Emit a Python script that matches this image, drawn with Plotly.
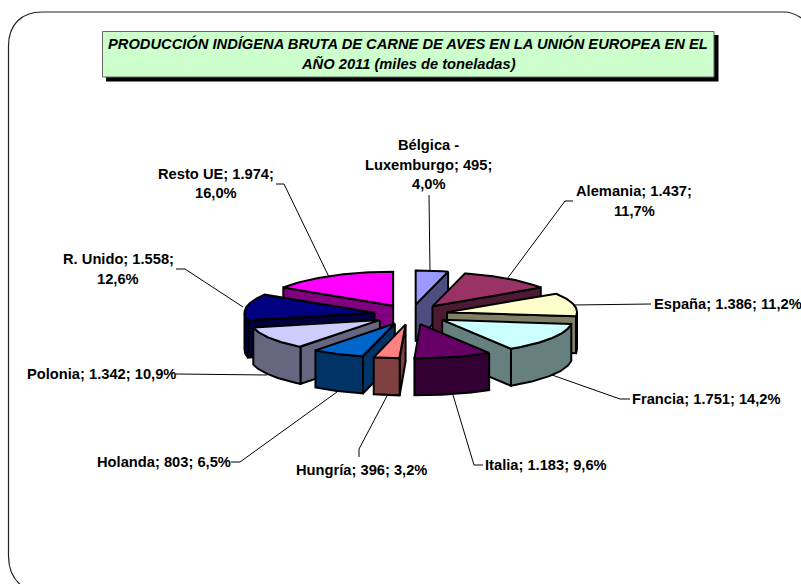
import numpy as np
import plotly.graph_objects as go

# ---- data (clockwise from 12 o'clock) ----
countries = ["Bélgica - Luxemburgo", "Alemania", "España", "Francia", "Italia",
             "Hungría", "Holanda", "Polonia", "R. Unido", "Resto UE"]
values = [495, 1437, 1386, 1751, 1183, 396, 803, 1342, 1558, 1974]
value_labels = ["495", "1.437", "1.386", "1.751", "1.183", "396", "803", "1.342", "1.558", "1.974"]
pct_labels = ["4,0%", "11,7%", "11,2%", "14,2%", "9,6%", "3,2%", "6,5%", "10,9%", "12,6%", "16,0%"]

# ---- styles ----
top_colors = ["#9999FF", "#993366", "#FFFFCC", "#CCFFFF", "#660066",
              "#FF8080", "#0066CC", "#CCCCFF", "#000080", "#FF00FF"]
side_colors = ["#4D4D80", "#4D1A33", "#808066", "#668080", "#330033",
               "#804040", "#003366", "#666680", "#000040", "#800080"]
draw_order = [9, 0, 1, 8, 2, 7, 3, 6, 4, 5]

CX, CY, RX, RY, EX, EY, H = 411, 314.5, 130, 34, 37, 10, 37
FONT = "Liberation Sans, Arial, sans-serif"
FS = 14.7

# label lines: (text lines are built from the data), centre x, y of each line
label_lines = [
    (["Bélgica -", f"Luxemburgo; {value_labels[0]};", pct_labels[0]], 428.5, [145, 165, 184]),
    ([f"Alemania; {value_labels[1]};", pct_labels[1]], 634, [191, 211]),
    ([f"España; {value_labels[2]}; {pct_labels[2]}"], 728, [304]),
    ([f"Francia; {value_labels[3]}; {pct_labels[3]}"], 706.5, [399]),
    ([f"Italia; {value_labels[4]}; {pct_labels[4]}"], 546, [465]),
    ([f"Hungría; {value_labels[5]}; {pct_labels[5]}"], 361, [470]),
    ([f"Holanda; {value_labels[6]}; {pct_labels[6]}"], 164, [462]),
    ([f"Polonia; {value_labels[7]}; {pct_labels[7]}"], 101, [374]),
    ([f"R. Unido; {value_labels[8]};", pct_labels[8]], 118, [259, 279]),
    ([f"Resto UE; {value_labels[9]};", pct_labels[9]], 216, [174, 193]),
]
leaders = [
    [(429, 195), (430, 272)],
    [(573, 201), (565, 201), (507, 279)],
    [(651, 304), (573, 305)],
    [(630, 399), (620, 399), (552, 375)],
    [(483, 465), (474, 465), (453, 395)],
    [(359, 457), (359, 449), (387, 396)],
    [(231, 462), (240, 462), (337, 392)],
    [(176, 374), (267, 375)],
    [(176, 269), (185, 269), (243, 307)],
    [(276, 184), (284, 184), (329, 277)],
]

fig = go.Figure()


def poly(xs, ys, color, width=2.0):
    fig.add_trace(go.Scatter(
        x=list(xs) + [xs[0]], y=list(ys) + [ys[0]], mode="lines", fill="toself",
        fillcolor=color, line=dict(color="black", width=width),
        hoverinfo="skip", showlegend=False))


total = sum(values)
edges = np.concatenate([[0], np.cumsum(values)]) / total * 2 * np.pi

for i in draw_order:
    a0, a1 = edges[i], edges[i + 1]
    mid = (a0 + a1) / 2
    ax = CX + EX * np.sin(mid)
    ay = CY - EY * np.cos(mid)
    rim = lambda t: (ax + RX * np.sin(t), ay - RY * np.cos(t))

    # radial walls that face the viewer
    if np.sin(a1) > 0.001:
        rx_, ry_ = rim(a1)
        poly([ax, rx_, rx_, ax], [ay, ry_, ry_ + H, ay + H], side_colors[i])
    if np.sin(a0) < -0.001:
        rx_, ry_ = rim(a0)
        poly([ax, rx_, rx_, ax], [ay, ry_, ry_ + H, ay + H], side_colors[i])

    # outer wall: the part of the arc on the front half
    s0, s1 = max(a0, np.pi / 2), min(a1, 3 * np.pi / 2)
    if s1 > s0:
        t = np.linspace(s0, s1, 50)
        x, y = rim(t)
        poly(list(x) + list(x[::-1]), list(y) + list((y + H)[::-1]), side_colors[i])

    # top face
    t = np.linspace(a0, a1, 70)
    x, y = rim(t)
    poly([ax] + list(x), [ay] + list(y), top_colors[i])

# leader lines
for pts in leaders:
    fig.add_trace(go.Scatter(x=[p[0] for p in pts], y=[p[1] for p in pts], mode="lines",
                             line=dict(color="black", width=1), hoverinfo="skip", showlegend=False))

annotations = []
for lines, xc, ys in label_lines:
    for line, y in zip(lines, ys):
        annotations.append(dict(x=xc, y=y, xref="x", yref="y", text=f"<b>{line}</b>", showarrow=False,
                                xanchor="center", yanchor="middle",
                                font=dict(family=FONT, size=FS, color="black")))

annotations.append(dict(x=408, y=43, xref="x", yref="y", showarrow=False, xanchor="center", yanchor="middle",
                        text="<b><i>PRODUCCIÓN INDÍGENA BRUTA DE CARNE DE AVES EN LA UNIÓN EUROPEA EN EL</i></b>",
                        font=dict(family=FONT, size=FS, color="black")))
annotations.append(dict(x=408, y=63, xref="x", yref="y", showarrow=False, xanchor="center", yanchor="middle",
                        text="<b><i>AÑO 2011 (miles de toneladas)</i></b>",
                        font=dict(family=FONT, size=FS, color="black")))

shapes = [
    dict(type="path", layer="below", line=dict(color="#222222", width=1.2), fillcolor="white",
         path="M 8.5 46 C 8.5 24 22 12 42 12 L 785 12 C 792 12 797 15 803 19 L 803 586 L 22 586 C 14 580 8.5 572 8.5 556 Z"),
    dict(type="rect", layer="below", x0=106, y0=35, x1=718.5, y1=81.5, fillcolor="black", line=dict(width=0)),
    dict(type="rect", layer="below", x0=102.5, y0=31.5, x1=714, y1=77, fillcolor="#CCFFCC",
         line=dict(color="#666666", width=1)),
]

fig.update_layout(
    width=801, height=584, margin=dict(l=0, r=0, t=0, b=0),
    paper_bgcolor="white", plot_bgcolor="white", showlegend=False,
    xaxis=dict(range=[0, 801], visible=False, fixedrange=True),
    yaxis=dict(range=[584, 0], visible=False, fixedrange=True),
    shapes=shapes, annotations=annotations,
)
fig.write_html("out.html", config={"displayModeBar": False},
               post_script="document.body.style.margin='0';document.body.style.overflow='hidden';")
